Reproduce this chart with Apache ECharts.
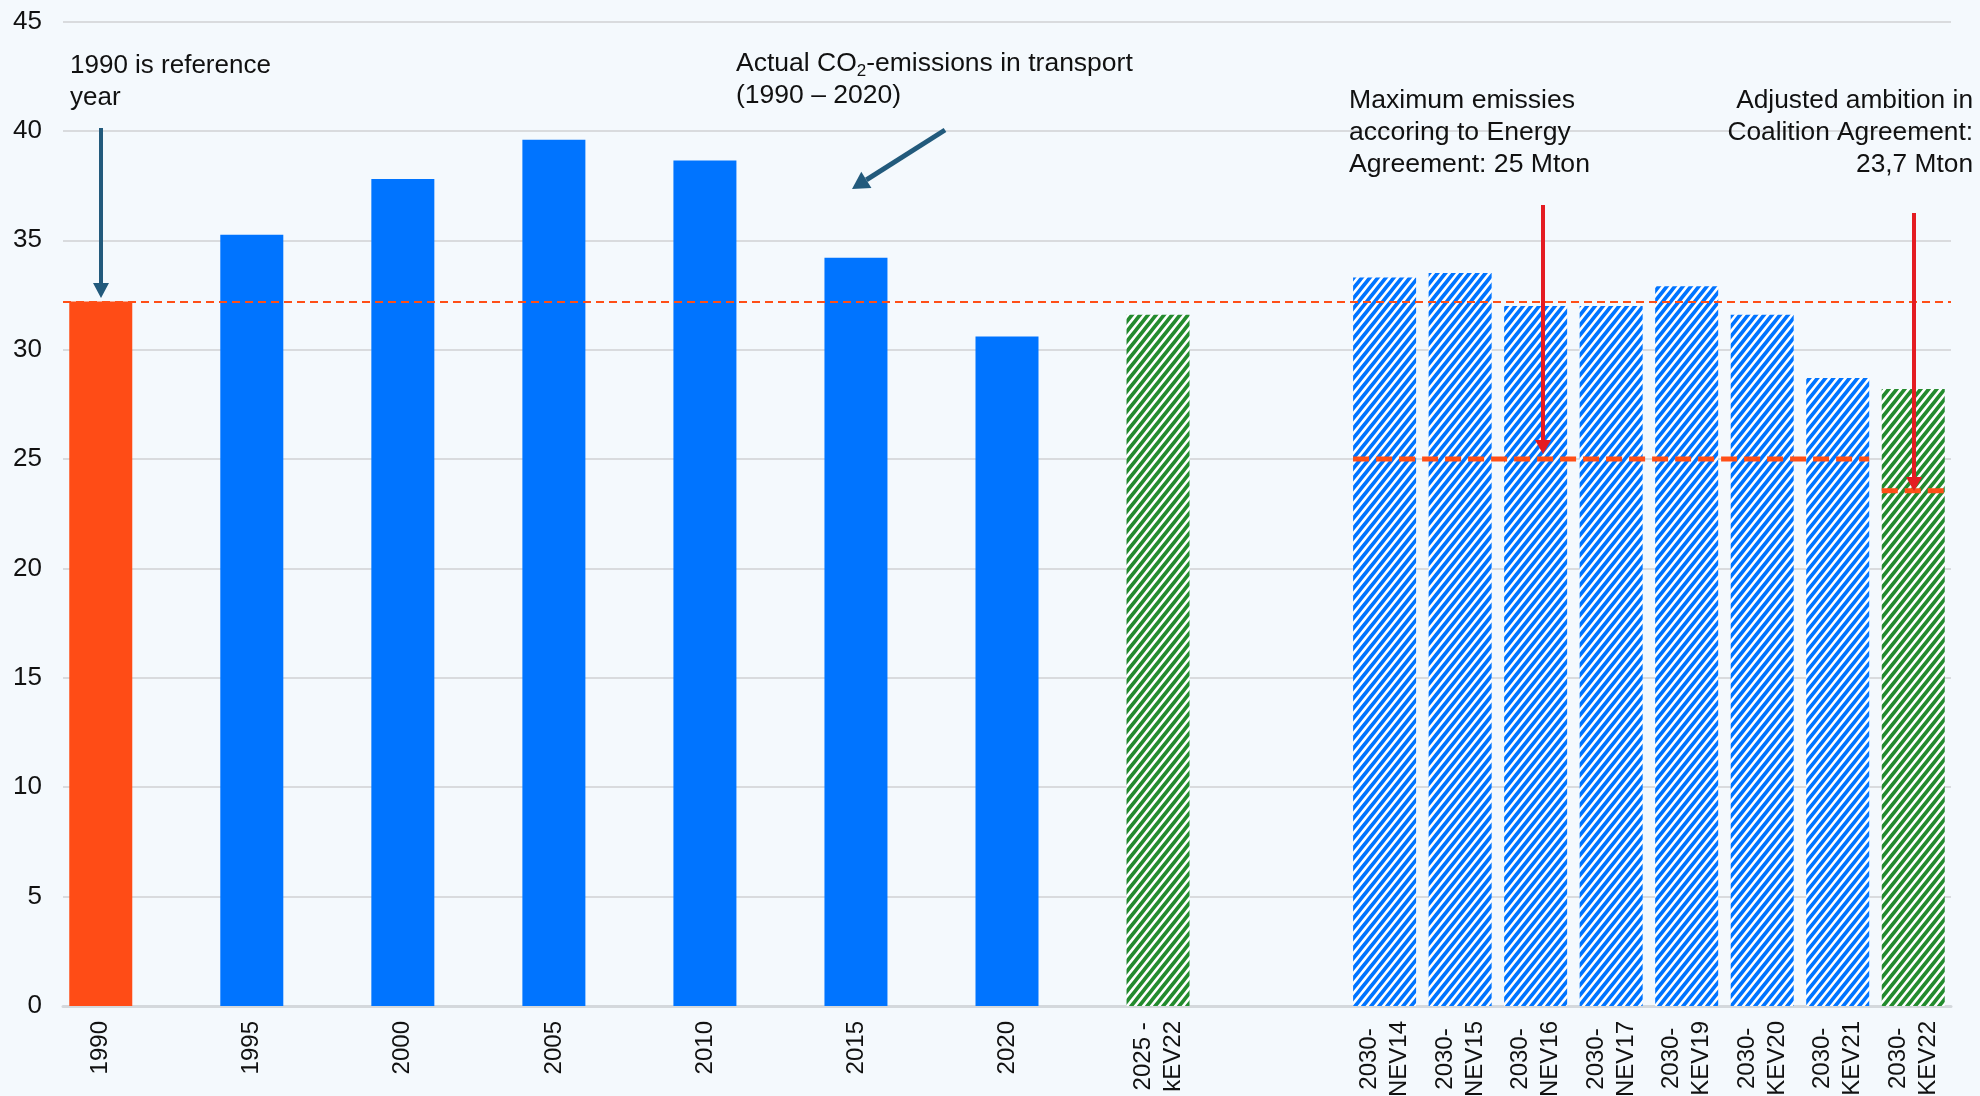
<!DOCTYPE html>
<html>
<head>
<meta charset="utf-8">
<title>CO2 transport</title>
<script src="https://cdn.jsdelivr.net/npm/echarts@6/dist/echarts.min.js"></script>
<style>
html, body { margin: 0; padding: 0; background: #f4f9fd; }
#data_show { width: 1980px; height: 1096px; }
</style>
</head>
<body>
<div id="data_show"></div>
<script>
var font_name = '"Liberation Sans", Arial, sans-serif';

//categorieen, lege plekken houden de afstand tussen de jaren
var categories = ['1990', '', '1995', '', '2000', '', '2005', '', '2010', '', '2015', '', '2020', '',
	'2025 -\nkEV22', '', '',
	'2030-\nNEV14', '2030-\nNEV15', '2030-\nNEV16', '2030-\nNEV17',
	'2030-\nKEV19', '2030-\nKEV20', '2030-\nKEV21', '2030-\nKEV22'];

var reference_year_data = [32.2, '-', '-', '-', '-', '-', '-', '-', '-', '-', '-', '-', '-', '-', '-', '-', '-', '-', '-', '-', '-', '-', '-', '-', '-'];
var actual_data = ['-', '-', 35.25, '-', 37.8, '-', 39.6, '-', 38.65, '-', 34.2, '-', 30.6, '-', '-', '-', '-', '-', '-', '-', '-', '-', '-', '-', '-'];
var green_forecast_data = ['-', '-', '-', '-', '-', '-', '-', '-', '-', '-', '-', '-', '-', '-', 31.6, '-', '-', '-', '-', '-', '-', '-', '-', '-', 28.2];
var blue_forecast_data = ['-', '-', '-', '-', '-', '-', '-', '-', '-', '-', '-', '-', '-', '-', '-', '-', '-', 33.3, 33.5, 32.0, 32.0, 32.9, 31.6, 28.7, '-'];

var reference_level = 32.2;
//doel lijnen: [eerste categorie, laatste categorie, waarde]
var target_lines = [[17, 23, 25], [24, 24, 23.55]];

var y_ticks = [0, 45, 5]; //min, max, interval

function make_hatch(color){
	var w = 8, h = 10;
	var c = document.createElement('canvas');
	c.width = w;
	c.height = h;
	var ctx = c.getContext('2d');
	ctx.fillStyle = '#ffffff';
	ctx.fillRect(0, 0, w, h);
	ctx.strokeStyle = color;
	ctx.lineWidth = 3.6;
	ctx.beginPath();
	for(var k = -1; k <= 1; k++){
		ctx.moveTo(k * w - w, 2 * h);
		ctx.lineTo(k * w + 2 * w, -h);
	}
	ctx.stroke();
	return {image: c, repeat: 'repeat'};
}

function make_arrow(x1, y1, x2, y2, color, lw, head_len, head_w){
	var dx = x2 - x1, dy = y2 - y1;
	var len = Math.sqrt(dx * dx + dy * dy);
	var ux = dx / len, uy = dy / len;
	var bx = x2 - ux * head_len, by = y2 - uy * head_len;
	var px = -uy, py = ux;
	return [
		{type: 'line', z: 100, shape: {x1: x1, y1: y1, x2: bx, y2: by}, style: {stroke: color, lineWidth: lw}},
		{type: 'polygon', z: 100, shape: {points: [[x2, y2], [bx + px * head_w / 2, by + py * head_w / 2], [bx - px * head_w / 2, by - py * head_w / 2]]}, style: {fill: color}}
	];
}

function note(text, x, y, size, align, rich){
	return {
		type: 'text', z: 100, x: x, y: y,
		style: {
			text: text, fill: '#111111', fontSize: size, fontFamily: font_name,
			lineHeight: 32, align: align, verticalAlign: 'top', rich: rich
		}
	};
}

var co2_chart = echarts.init(document.getElementById('data_show'));

var blue = '#0074ff';
var green = '#238b2e';
var orange = '#ff4c16';
var dark_blue = '#225a7c';
var red = '#e41c22';

var graphics = [];
graphics.push(note('1990 is reference\nyear', 70, 50, 26, 'left'));
graphics.push(note('Actual CO{sub|2}-emissions in transport\n(1990 – 2020)', 736, 48, 26.5, 'left',
	{sub: {fontSize: 17, fontFamily: font_name, fill: '#111111', verticalAlign: 'bottom', lineHeight: 18}}));
graphics.push(note('Maximum emissies\naccoring to Energy\nAgreement: 25 Mton', 1349, 85, 26.6, 'left'));
graphics.push(note('Adjusted ambition in\nCoalition Agreement:\n23,7 Mton', 1973, 85, 26.3, 'right'));
graphics = graphics.concat(make_arrow(101, 128, 101, 298, dark_blue, 4, 15, 16));
graphics = graphics.concat(make_arrow(945, 130, 852, 189, dark_blue, 5, 17, 19));
graphics = graphics.concat(make_arrow(1543, 205, 1543, 454, red, 4, 14, 16));
graphics = graphics.concat(make_arrow(1914, 213, 1914, 491, red, 4, 14, 16));

var option = {
	backgroundColor: '#f4f9fd',
	animation: false,
	grid: {
		left: 63,
		right: 29,
		top: 21.5,
		bottom: 90,
		containLabel: false,
		outerBoundsMode: 'none'
	},
	xAxis: {
		type: 'category',
		data: categories,
		axisTick: {show: false},
		axisLine: {lineStyle: {color: '#d4d8dc', width: 3}},
		axisLabel: {
			interval: 0,
			rotate: 90,
			margin: 15,
			hideOverlap: false,
			formatter: function(v){
				if(!v) return '';
				return v.split('\n').map(function(s){ return '{c|' + s + '}'; }).join('\n');
			},
			rich: {
				c: {fontSize: 24, fontFamily: font_name, color: '#111111', align: 'center', lineHeight: 30}
			}
		}
	},
	yAxis: {
		type: 'value',
		min: y_ticks[0],
		max: y_ticks[1],
		interval: y_ticks[2],
		axisLine: {show: false},
		axisTick: {show: false},
		axisLabel: {fontSize: 26, fontFamily: font_name, color: '#111111', margin: 21},
		splitLine: {lineStyle: {color: '#d9dbde', width: 2}}
	},
	series: [
		{
			name: 'reference',
			type: 'bar',
			barWidth: 63,
			barGap: '-100%',
			data: reference_year_data,
			itemStyle: {color: orange},
			markLine: {
				silent: true,
				symbol: 'none',
				label: {show: false},
				lineStyle: {color: '#ff4f17', type: [8, 5], width: 2},
				data: [{yAxis: reference_level}]
			},
			z: 2
		},
		{
			name: 'actual',
			type: 'bar',
			barWidth: 63,
			barGap: '-100%',
			data: actual_data,
			itemStyle: {color: blue}
		},
		{
			name: 'green',
			type: 'bar',
			barWidth: 63,
			barGap: '-100%',
			data: green_forecast_data,
			itemStyle: {color: make_hatch(green)}
		},
		{
			name: 'blue',
			type: 'bar',
			barWidth: 63,
			barGap: '-100%',
			data: blue_forecast_data,
			itemStyle: {color: make_hatch(blue)}
		},
		{
			name: 'targets',
			type: 'custom',
			clip: false,
			z: 5,
			encode: {x: 0, y: 2},
			data: target_lines,
			renderItem: function(params, api){
				var a = api.coord([api.value(0), api.value(2)]);
				var b = api.coord([api.value(1), api.value(2)]);
				var half = 31.5;
				return {
					type: 'line',
					shape: {x1: a[0] - half, y1: a[1], x2: b[0] + half, y2: b[1]},
					style: {stroke: '#ff4f17', lineWidth: 5, lineDash: [16, 7]}
				};
			}
		}
	],
	graphic: graphics
};
co2_chart.setOption(option);
</script>
</body>
</html>
